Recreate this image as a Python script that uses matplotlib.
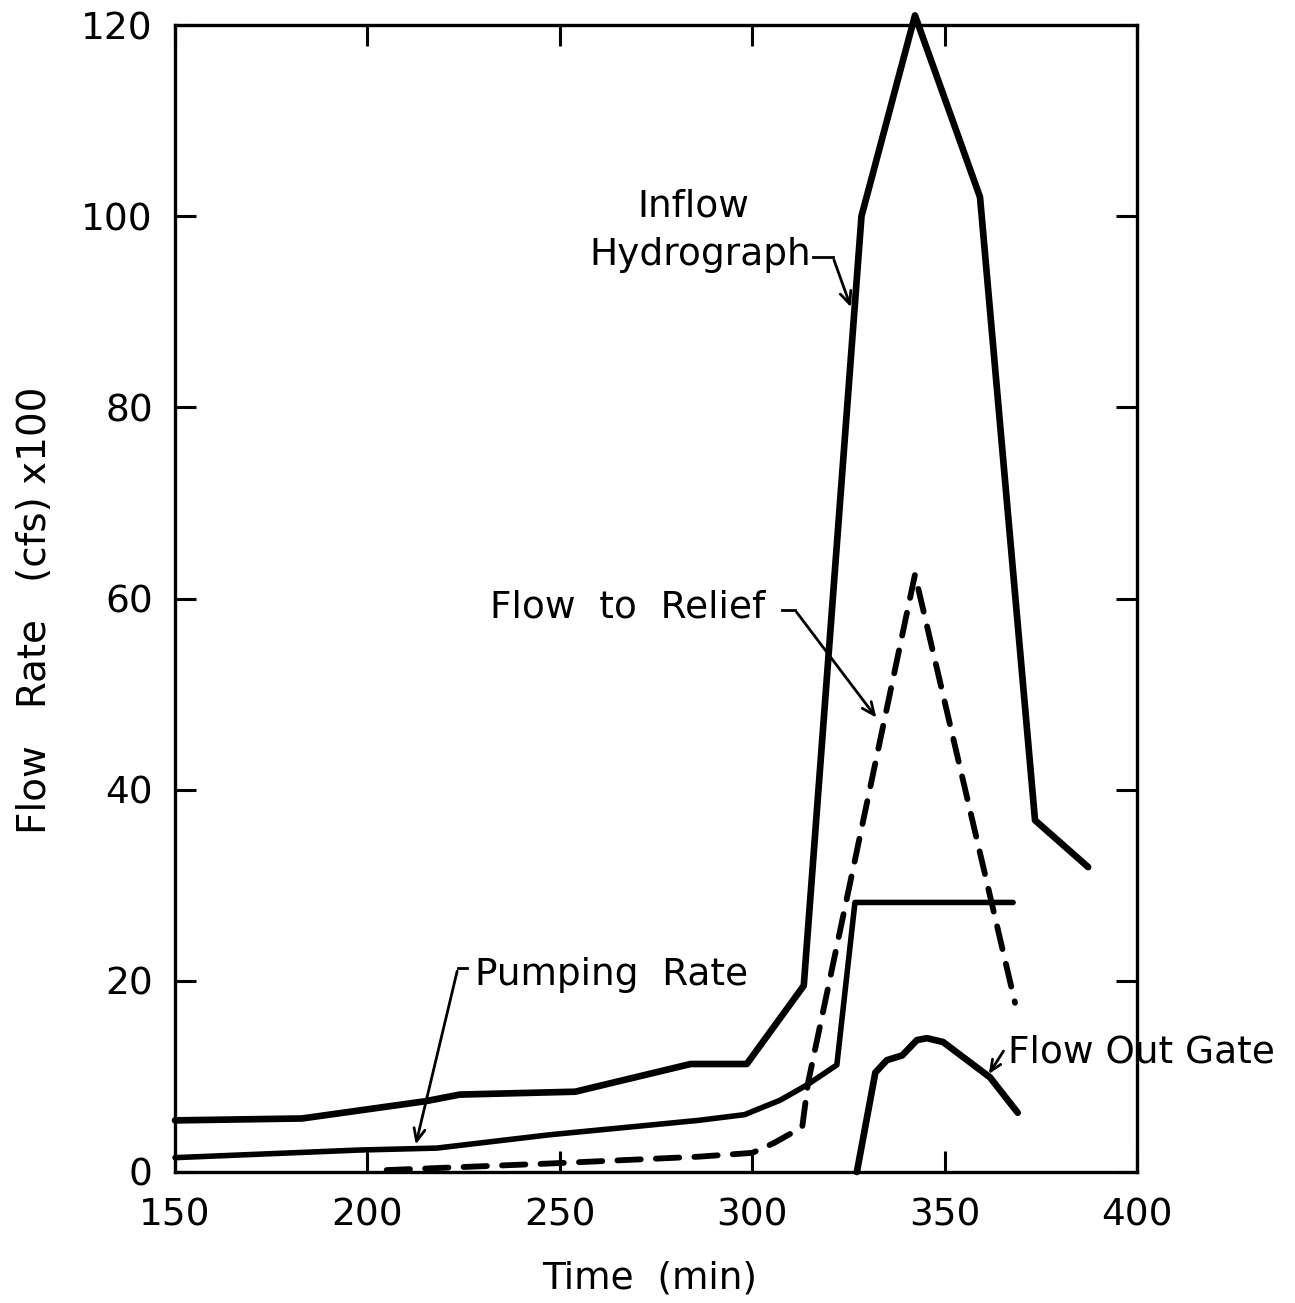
import matplotlib
matplotlib.use("Agg")
import matplotlib.pyplot as plt

# values (flow rate in cfs x 100)
inflow_t = [150, 183, 215, 224, 254, 284, 298.6, 313.4, 328.4, 342.3, 359.2, 373.5, 387.3]
inflow_q = [5.4, 5.6, 7.4, 8.1, 8.4, 11.3, 11.3, 19.5, 100, 121, 102, 36.8, 31.9]

pump_t = [150, 198, 218, 247.5, 286, 298, 307.2, 314.2, 322, 326.7, 367.8]
pump_q = [1.5, 2.3, 2.5, 3.9, 5.4, 6.0, 7.5, 9.1, 11.2, 28.2, 28.2]

relief_t = [205, 248, 286, 300, 305.5, 313, 314.5, 342.3, 368.3]
relief_q = [0.2, 0.9, 1.6, 2.0, 3.0, 4.7, 9.3, 62.5, 17.7]

gate_t = [327.2, 332, 335, 339, 342.8, 345.4, 349.6, 361.8, 369]
gate_q = [0, 10.4, 11.7, 12.2, 13.8, 14.0, 13.6, 9.9, 6.2]

x_ticks = [150, 200, 250, 300, 350, 400]
y_ticks = [0, 20, 40, 60, 80, 100, 120]

FS = 27
ARROW = dict(arrowstyle="->,head_length=0.9,head_width=0.4", color="black", lw=2.0)

fig = plt.figure(figsize=(12.95, 13.03), dpi=100)
ax = fig.add_axes([175 / 1295, 131 / 1303, 962 / 1295, 1147 / 1303])

ax.plot(inflow_t, inflow_q, color="black", lw=4.8, solid_joinstyle="round",
        solid_capstyle="round", clip_on=False)
ax.plot(pump_t, pump_q, color="black", lw=4.0, solid_joinstyle="round",
        solid_capstyle="round", clip_on=False)
ax.plot(relief_t, relief_q, color="black", lw=4.2, linestyle=(0, (4.0, 2.6)),
        dash_capstyle="round", dash_joinstyle="round")
ax.plot(gate_t, gate_q, color="black", lw=4.8, solid_joinstyle="round",
        solid_capstyle="round", clip_on=False)

ax.set_xlim(150, 400)
ax.set_ylim(0, 120)
ax.set_xticks(x_ticks)
ax.set_yticks(y_ticks)
ax.tick_params(direction="in", length=15, width=2.2, top=True, right=True,
               labelsize=FS)
ax.tick_params(axis="x", pad=18)
ax.tick_params(axis="y", pad=16)
for s in ax.spines.values():
    s.set_linewidth(2.4)

# axis labels
fig.text(35 / 1295, 1 - 610 / 1303, "Flow   Rate   (cfs) x100", rotation=90,
         ha="center", va="center", fontsize=28)
fig.text(650 / 1295, 1 - 1278 / 1303, "Time  (min)", ha="center", va="center",
         fontsize=FS)

# curve annotations
ax.text(284.6, 101.0, "Inflow", ha="center", va="center", fontsize=FS)
ax.text(286.4, 95.9, "Hydrograph", ha="center", va="center", fontsize=FS)
ax.plot([315.8, 321.0], [95.7, 95.7], color="black", lw=2.0)
ax.annotate("", xy=(325.9, 90.2), xytext=(321.0, 95.7), arrowprops=ARROW)

ax.text(267.5, 59.1, "Flow  to  Relief", ha="center", va="center", fontsize=FS)
ax.plot([307.7, 311.1], [58.8, 58.8], color="black", lw=2.0)
ax.annotate("", xy=(332.7, 47.3), xytext=(311.1, 58.8), arrowprops=ARROW)

ax.text(228.0, 20.6, "Pumping  Rate", ha="left", va="center", fontsize=FS)
ax.plot([225.9, 223.5], [21.3, 21.3], color="black", lw=2.0)
ax.annotate("", xy=(212.4, 2.6), xytext=(223.5, 21.3), arrowprops=ARROW)

ax.text(366.5, 12.5, "Flow Out Gate", ha="left", va="center", fontsize=FS)
ax.annotate("", xy=(361.1, 10.0), xytext=(365.7, 12.9),
            arrowprops=dict(arrowstyle="->,head_length=0.8,head_width=0.35",
                            color="black", lw=2.0))

fig.savefig("out.png", dpi=100)
